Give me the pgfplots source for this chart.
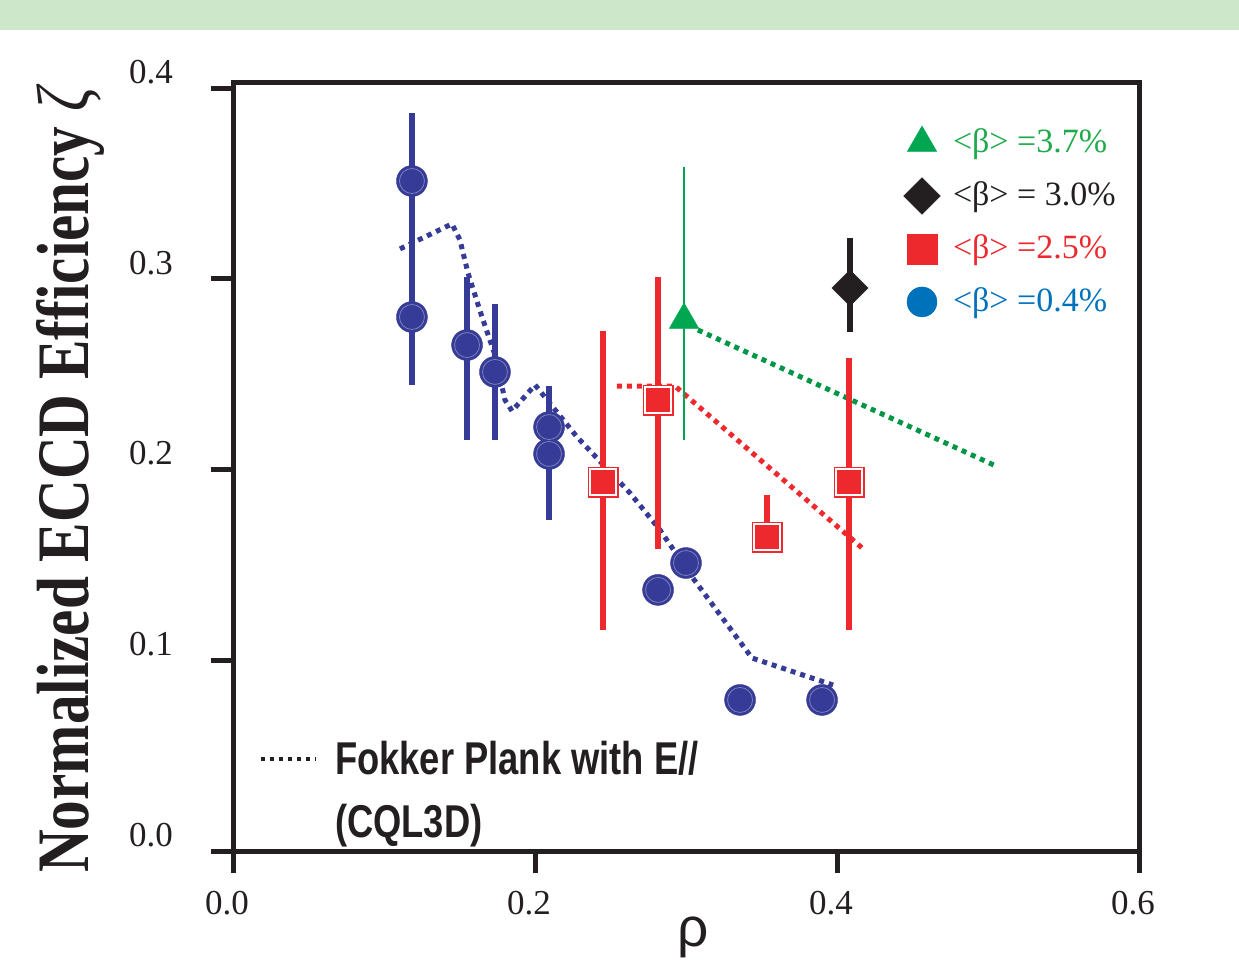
\documentclass[border=0pt]{standalone}
\usepackage{fontspec}
\setmainfont{Liberation Serif}
\newfontfamily\ylabfont{Liberation Serif}[FakeStretch=0.8]
\newfontfamily\fpfont{Liberation Sans}[FakeStretch=0.79]
\newfontfamily\rhofont{Liberation Sans}
\usepackage{pgfplots}
\pgfplotsset{compat=1.18}

\definecolor{band}{RGB}{205,231,203}
\definecolor{navy}{RGB}{53,59,150}
\definecolor{ered}{RGB}{237,41,46}
\definecolor{gmark}{RGB}{0,166,80}
\definecolor{gline}{RGB}{0,150,70}
\definecolor{gtext}{RGB}{30,170,75}
\definecolor{legblue}{RGB}{0,114,188}
\definecolor{ink}{RGB}{35,31,32}

\begin{document}
\begin{tikzpicture}
\path[use as bounding box] (0pt,0pt) rectangle (1239pt,959pt);
\fill[band] (0pt,929pt) rectangle (1239pt,959pt);

\begin{axis}[
    at={(233pt,108pt)}, anchor=south west,
    scale only axis, width=906pt, height=768pt,
    xmin=0, xmax=0.6, ymin=0, ymax=0.4027,
    clip=false,
    axis line style={line width=5pt, ink},
    xtick={0,0.2,0.4,0.6},
    ytick={0,0.1,0.2,0.3,0.4},
    xtick pos=left, ytick pos=left,
    tick align=outside,
    major tick length=22pt,
    tick style={line width=5pt, ink},
    /pgf/number format/.cd, fixed, fixed zerofill, precision=1, assume math mode=true,
    /pgfplots/.cd,
    ticklabel style={font=\fontsize{35}{40}\selectfont, text=ink, inner sep=0pt},
    yticklabel style={anchor=east, xshift=-38pt, yshift=16pt},
    xticklabel style={anchor=north, xshift=-6pt, yshift=-18pt},
    legend image code/.code={\draw[#1, yshift=10pt] plot coordinates {(0pt,0pt)};},
    legend cell align=left,
    legend style={at={(0.7402,0.961)}, anchor=north west, draw=none, fill=none,
        inner sep=0pt, outer sep=0pt, row sep=0pt, column sep=12.6pt,
        font=\fontsize{34}{40}\selectfont,
        nodes={inner sep=0pt, text height=40pt, text depth=13pt, anchor=base west}},
]

% legend images
\addlegendimage{mark=triangle*, mark size=17pt, color=gmark}
\addlegendimage{mark=square*, mark size=13pt, mark options={rotate=45}, color=ink}
\addlegendimage{mark=square*, mark size=15pt, color=ered}
\addlegendimage{mark=*, mark size=15pt, color=legblue}

% CQL3D curves
\addplot[navy, line width=5pt, dash pattern=on 5pt off 5pt, mark=none, forget plot] coordinates {
    (0.1106,0.3157) (0.1450,0.3288) (0.1503,0.3204) (0.1556,0.3031)
    (0.1649,0.2800) (0.1735,0.2601) (0.1801,0.2365) (0.1848,0.2307)
    (0.2000,0.2444) (0.2278,0.2171) (0.2629,0.1877) (0.2828,0.1683)
    (0.3040,0.1437) (0.3437,0.1012) (0.3974,0.0870)
};
\addplot[ered, line width=5pt, dash pattern=on 5pt off 5pt, mark=none, forget plot] coordinates {
    (0.2543,0.2438) (0.2927,0.2438) (0.4166,0.1589)
};
\addplot[gline, line width=5pt, dash pattern=on 5pt off 5pt, mark=none, forget plot] coordinates {
    (0.3079,0.2732) (0.5066,0.2014)
};

% <beta>=0.4%
\addplot[only marks, mark=*, mark size=15.5pt, color=navy, forget plot,
    error bars/.cd, y dir=both, y explicit, error mark=none,
    error bar style={line width=6pt, navy}] coordinates {
    (0.1185,0.3513) += (0,0.0357) -= (0,0.0363)
    (0.1185,0.2800) += (0,0.0350) -= (0,0.0356)
    (0.1550,0.2653) += (0,0.0357) -= (0,0.0498)
    (0.1735,0.2512) += (0,0.0356) -= (0,0.0357)
    (0.2093,0.2223) += (0,0.0215) -= (0,0.0000)
    (0.2093,0.2082) += (0,0.0141) -= (0,0.0346)
};
\addplot[only marks, mark=*, mark size=15.5pt, color=navy, forget plot] coordinates {
    (0.2815,0.1369) (0.3000,0.1510) (0.3358,0.0792) (0.3901,0.0792)
};
\addplot[only marks, mark=o, mark size=12.5pt, forget plot,
    mark options={draw=white, draw opacity=0.35, line width=0.8pt}] coordinates {
    (0.1185,0.3513) (0.1185,0.2800) (0.1550,0.2653) (0.1735,0.2512)
    (0.2093,0.2223) (0.2093,0.2082) (0.2815,0.1369) (0.3000,0.1510)
    (0.3358,0.0792) (0.3901,0.0792)
};

% <beta>=2.5%
\addplot[only marks, mark=square*, mark size=15pt, color=ered, forget plot,
    error bars/.cd, y dir=both, y explicit, error mark=none,
    error bar style={line width=6pt, ered}] coordinates {
    (0.2450,0.1935) += (0,0.0792) -= (0,0.0776)
    (0.2815,0.2365) += (0,0.0645) -= (0,0.0781)
    (0.3536,0.1647) += (0,0.0220) -= (0,0.0000)
    (0.4079,0.1935) += (0,0.0650) -= (0,0.0776)
};
\addplot[only marks, mark=square, mark size=13.3pt, forget plot,
    mark options={draw=white, line width=2pt}] coordinates {
    (0.2450,0.1935) (0.2815,0.2365) (0.3536,0.1647) (0.4079,0.1935)
};

% <beta>=3.7%
\addplot[only marks, mark=triangle*, mark size=17pt, color=gmark, forget plot,
    error bars/.cd, y dir=both, y explicit, error mark=none,
    error bar style={line width=2pt, gmark}] coordinates {
    (0.2987,0.2785) += (0,0.0802) -= (0,0.0630)
};

% <beta>=3.0%
\addplot[only marks, mark=square*, mark size=12.8pt, mark options={rotate=45}, color=ink, forget plot,
    error bars/.cd, y dir=both, y explicit, error mark=none,
    error bar style={line width=6pt, ink}] coordinates {
    (0.4086,0.2952) += (0,0.0262) -= (0,0.0230)
};

\legend{\textcolor{gtext}{<β> =3.7\%},\textcolor{ink}{<β> = 3.0\%},\textcolor{ered}{<β> =2.5\%},\textcolor{legblue}{<β> =0.4\%}}

\draw[ink, line width=4.5pt, dash pattern=on 4.5pt off 4.5pt] (axis cs:0.0185,0.0482) -- (axis cs:0.0543,0.0482);
\node[anchor=base west, inner sep=0pt, text=ink, font=\fpfont\bfseries\fontsize{46}{50}\selectfont] at (axis cs:0.0675,0.0399) {Fokker Plank with E//};
\node[anchor=base west, inner sep=0pt, text=ink, font=\fpfont\bfseries\fontsize{46}{50}\selectfont] at (axis cs:0.0675,0.0073) {(CQL3D)};
\end{axis}

\node[rotate=90, anchor=base west, inner sep=0pt, text=ink, font=\ylabfont\bfseries\fontsize{74}{80}\selectfont] at (88pt,86pt) {Normalized ECCD Efficiency {\mdseries\itshape ζ}};
\node[anchor=base, inner sep=0pt, text=ink, font=\rhofont\fontsize{55}{60}\selectfont] at (693pt,13pt) {ρ};
\end{tikzpicture}
\end{document}
